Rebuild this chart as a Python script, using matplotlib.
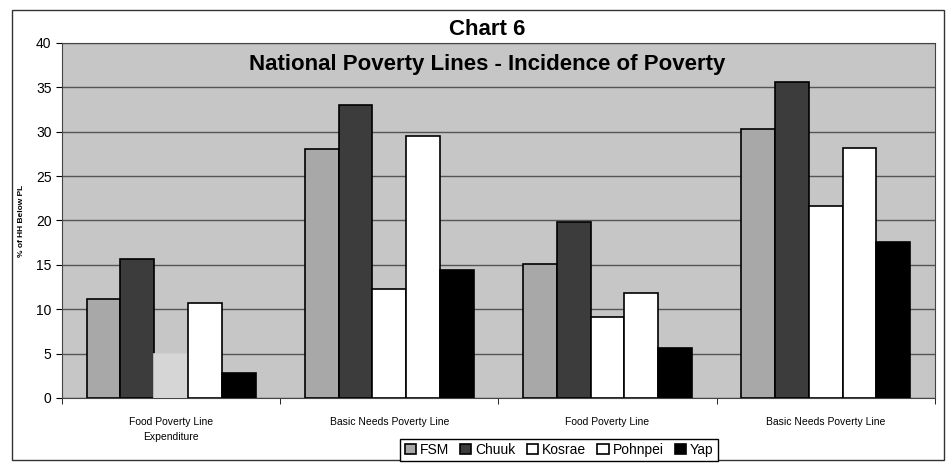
import matplotlib.pyplot as plt
from matplotlib.patches import Rectangle
import numpy as np

plt.rcParams['font.family'] = ['Liberation Sans', 'DejaVu Sans']

groups = ["Food Poverty Line\nExpenditure", "Basic Needs Poverty Line",
          "Food Poverty Line", "Basic Needs Poverty Line"]
series = ["FSM", "Chuuk", "Kosrae", "Pohnpei", "Yap"]
fsm = [11.2, 28.0, 15.1, 30.3]
chuuk = [15.7, 33.0, 19.8, 35.6]
kosrae = [4.9, 12.3, 9.1, 21.6]
pohnpei = [10.7, 29.5, 11.8, 28.2]
yap = [2.8, 14.4, 5.6, 17.6]
values = [fsm, chuuk, kosrae, pohnpei, yap]
colors = ["#a8a8a8", "#3c3c3c", "white", "white", "black"]

fig = plt.figure(figsize=(9.51, 4.67), dpi=100)
ax = fig.add_axes([0.0652, 0.1478, 0.9178, 0.7602])
ax.set_facecolor("#c6c6c6")

x = np.arange(len(groups))
w = 0.155
bars = []
for i, (name, vals) in enumerate(zip(series, values)):
    b = ax.bar(x + (i - 2) * w, vals, w, color=colors[i], edgecolor="black",
               linewidth=1.2, label=name, zorder=3)
    bars.append(b)

ax.set_xlim(-0.5, len(groups) - 0.5)
ax.set_ylim(0, 40)
ax.set_yticks(range(0, 41, 5))
ax.yaxis.grid(True, color="#555555", linewidth=1.0, zorder=0)
ax.set_axisbelow(True)
ax.set_xticks(np.arange(len(groups) + 1) - 0.5, minor=True)
ax.set_xticks(x)
ax.set_xticklabels(groups, fontsize=7.5, linespacing=1.6)
ax.tick_params(axis="x", which="major", length=0, pad=14)
ax.tick_params(axis="x", which="minor", length=4)
ax.tick_params(axis="y", labelsize=10, length=4)
for s in ax.spines.values():
    s.set_color("#444444")
ax.set_ylabel("% of HH Below PL", fontsize=6, fontweight="bold", labelpad=8)

ax.text(0.487, 0.94, "National Poverty Lines - Incidence of Poverty",
        transform=ax.transAxes, ha="center", va="center",
        fontsize=16, fontweight="bold")
fig.text(0.512, 0.937, "Chart 6", ha="center", va="center",
         fontsize=16, fontweight="bold")

fig.legend(loc="center", bbox_to_anchor=(0.588, 0.037), ncol=5,
           fontsize=10, handlelength=0.8, handleheight=0.8,
           handletextpad=0.3, columnspacing=0.8, fancybox=False,
           edgecolor="black", framealpha=1, borderpad=0.3)

# the first Kosrae bar is barely visible in the scan
bars[2][0].set_facecolor("#d6d6d6")
bars[2][0].set_edgecolor("#d6d6d6")

fig.patches.append(Rectangle((12 / 951, 7 / 467), 932 / 951, 450 / 467,
                             transform=fig.transFigure, fill=False,
                             edgecolor="#333333", linewidth=1.0))

fig.savefig("out.png", dpi=100)
